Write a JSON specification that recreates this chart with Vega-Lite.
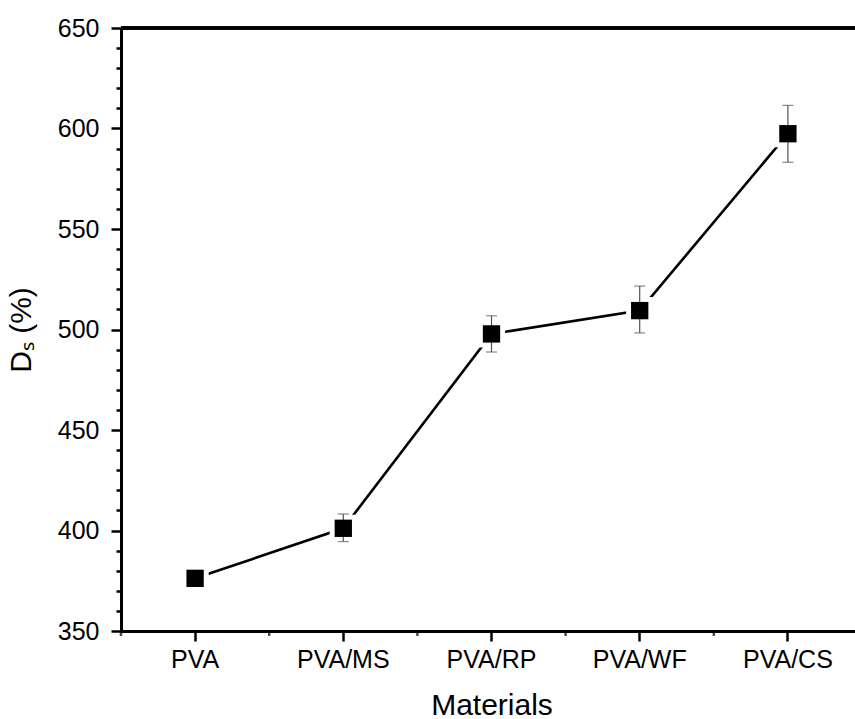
{
  "$schema": "https://vega.github.io/schema/vega-lite/v6.json",
  "autosize": {"type": "none"},
  "width": 734,
  "height": 603,
  "padding": {"left": 121, "top": 28, "right": 0, "bottom": 88},
  "background": "white",
  "config": {
    "view": {"stroke": null},
    "font": "Liberation Sans",
    "axis": {
      "labelFont": "Liberation Sans",
      "titleFont": "Liberation Sans",
      "labelColor": "black",
      "titleColor": "black",
      "domainColor": "black",
      "tickColor": "black",
      "grid": false,
      "titleFontWeight": "normal"
    }
  },
  "data": {
    "values": [
      {"material": "PVA", "ds": 376.2, "lo": 373, "hi": 379},
      {"material": "PVA/MS", "ds": 401.1, "lo": 394.5, "hi": 408.2},
      {"material": "PVA/RP", "ds": 497.8, "lo": 488.8, "hi": 506.8},
      {"material": "PVA/WF", "ds": 509.4, "lo": 498.3, "hi": 521.6},
      {"material": "PVA/CS", "ds": 597.4, "lo": 583.2, "hi": 611.5}
    ]
  },
  "encoding": {
    "x": {
      "field": "material",
      "type": "nominal",
      "sort": null,
      "scale": {"type": "band", "range": [0, 741], "paddingInner": 0, "paddingOuter": 0},
      "axis": {
        "title": "Materials",
        "titleFontSize": 30,
        "titlePadding": 18,
        "labelFontSize": 25,
        "labelAngle": 0,
        "labelPadding": 6,
        "tickSize": 10,
        "tickWidth": 2.5,
        "domainWidth": 3
      }
    },
    "y": {
      "field": "ds",
      "type": "quantitative",
      "scale": {"domain": [350, 650], "nice": false, "zero": false},
      "axis": {
        "title": "Dₛ (%)",
        "titleFontSize": 30,
        "titlePadding": 21,
        "labelFontSize": 25,
        "labelPadding": 12,
        "values": [350,360,370,380,390,400,410,420,430,440,450,460,470,480,490,500,510,520,530,540,550,560,570,580,590,600,610,620,630,640,650],
        "labelExpr": "datum.value % 50 === 0 ? datum.label : ''",
        "tickSize": {"condition": {"test": "datum.value % 50 === 0", "value": 10}, "value": 5},
        "tickWidth": 2.5,
        "domainWidth": 3
      }
    }
  },
  "layer": [
    {
      "mark": {"type": "rule", "color": "black", "strokeWidth": 3},
      "encoding": {"x": null, "y": {"datum": 650, "type": "quantitative"}}
    },
    {
      "mark": {"type": "tick", "orient": "vertical", "color": "black", "thickness": 2.5, "size": 5, "clip": false, "xOffset": -74.1, "yOffset": 2.5},
      "encoding": {
        "y": {"datum": 350, "type": "quantitative"}
      }
    },
    {
      "mark": {"type": "line", "color": "black", "strokeWidth": 2.6}
    },
    {
      "mark": {"type": "point", "shape": "square", "filled": true, "color": "white", "opacity": 1, "size": 740}
    },
    {
      "mark": {"type": "rule", "color": "#555555", "strokeWidth": 1.2},
      "encoding": {"y": {"field": "lo", "type": "quantitative"}, "y2": {"field": "hi"}}
    },
    {
      "mark": {"type": "tick", "color": "#555555", "thickness": 1.2, "size": 11, "orient": "horizontal"},
      "encoding": {"y": {"field": "lo", "type": "quantitative"}}
    },
    {
      "mark": {"type": "tick", "color": "#555555", "thickness": 1.2, "size": 11, "orient": "horizontal"},
      "encoding": {"y": {"field": "hi", "type": "quantitative"}}
    },
    {
      "mark": {"type": "point", "shape": "square", "filled": true, "color": "black", "opacity": 1, "size": 300}
    }
  ]
}
